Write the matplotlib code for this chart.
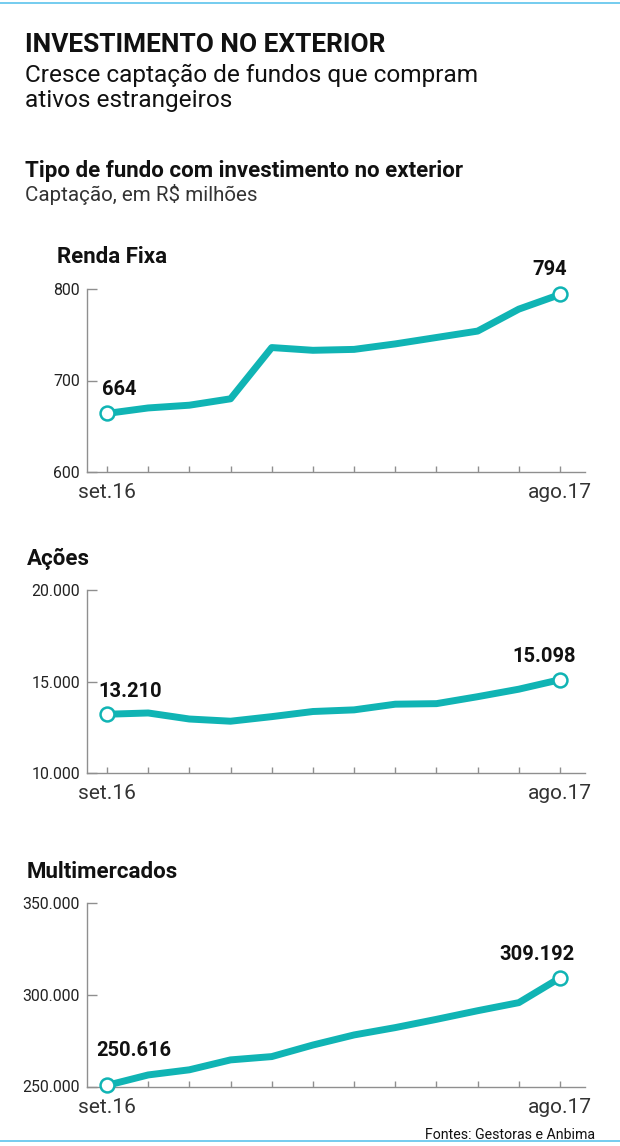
import matplotlib
matplotlib.use('Agg')
import matplotlib.pyplot as plt
from matplotlib.lines import Line2D

# ---------------- data ----------------
months = ['set.16', 'out.16', 'nov.16', 'dez.16', 'jan.17', 'fev.17',
          'mar.17', 'abr.17', 'mai.17', 'jun.17', 'jul.17', 'ago.17']
renda_fixa = [664, 670, 673, 680, 736, 733, 734, 740, 747, 754, 778, 794]
acoes = [13210, 13280, 12950, 12830, 13080, 13360, 13450, 13760, 13790,
         14170, 14580, 15098]
multimercados = [250616, 256300, 259100, 264500, 266300, 272600, 278100,
                 282100, 286600, 291300, 295700, 309192]
renda_ticks = [600, 700, 800]
acoes_ticks = [10000, 15000, 20000]
multi_ticks = [250000, 300000, 350000]

title = 'INVESTIMENTO NO EXTERIOR'
subtitle1 = 'Cresce captação de fundos que compram'
subtitle2 = 'ativos estrangeiros'
section = 'Tipo de fundo com investimento no exterior'
caption = 'Captação, em R$ milhões'
source = 'Fontes: Gestoras e Anbima'

plt.rcParams['font.family'] = ['Roboto', 'DejaVu Sans']

TEAL = '#10b4b4'
GRAY = '#8f8f8f'
BLUE = '#5cc3ec'

W, H = 620, 1146
fig = plt.figure(figsize=(W / 100, H / 100), dpi=100)


def fx(x):
    return x / W


def fy(y):
    return 1 - y / H


def fmt(v):
    return f'{v:,.0f}'.replace(',', '.')


# frame lines
fig.add_artist(Line2D([0, 1], [fy(3), fy(3)], color=BLUE, lw=1.2))
fig.add_artist(Line2D([0, 1], [fy(1141), fy(1141)], color=BLUE, lw=1.2))

# headings
fig.text(fx(25), fy(52), title, fontsize=18.9, fontweight='bold', color='#111111', va='baseline')
fig.text(fx(25), fy(82), subtitle1, fontsize=17.6, color='#111111', va='baseline')
fig.text(fx(25), fy(107), subtitle2, fontsize=17.6, color='#111111', va='baseline')
fig.text(fx(25), fy(177), section, fontsize=16, fontweight='bold', color='#111111', va='baseline')
fig.text(fx(25), fy(201), caption, fontsize=14.8, color='#333333', va='baseline')
fig.text(fx(425), fy(1139), source, fontsize=10.2, color='#111111', va='baseline')

panels = [
    dict(name='Renda Fixa', tx=57, ty=263, data=renda_fixa, ticks=renda_ticks,
         top=289, bottom=472, off0=(12, -23.5), off1=(-10, -24.5)),
    dict(name='Ações', tx=27, ty=565, data=acoes, ticks=acoes_ticks,
         top=590, bottom=773, off0=(23, -23), off1=(-16, -23)),
    dict(name='Multimercados', tx=27, ty=878, data=multimercados, ticks=multi_ticks,
         top=903, bottom=1086.5, off0=(27, -35), off1=(-23, -23)),
]

x = list(range(len(months)))
for p in panels:
    ax = fig.add_axes([fx(87), fy(p['bottom']), (585 - 87) / W, (p['bottom'] - p['top']) / H])
    ax.set_xlim(-0.486, 11.607)
    ax.set_ylim(p['ticks'][0], p['ticks'][-1])
    ax.plot(x, p['data'], color=TEAL, lw=5.0, solid_joinstyle='round',
            solid_capstyle='round', clip_on=False, zorder=3)
    ax.plot([x[0], x[-1]], [p['data'][0], p['data'][-1]], 'o', ms=10,
            mfc='white', mec=TEAL, mew=1.8, clip_on=False, zorder=4)
    for s in ['top', 'right']:
        ax.spines[s].set_visible(False)
    for s in ['left', 'bottom']:
        ax.spines[s].set_color(GRAY)
        ax.spines[s].set_linewidth(1.0)
    ax.set_yticks(p['ticks'])
    ax.set_yticklabels([fmt(t) for t in p['ticks']])
    ax.tick_params(axis='y', direction='in', length=7, width=1.0, color=GRAY,
                   labelsize=11.4, labelcolor='#222222', pad=5)
    ax.set_xticks(x)
    ax.set_xticklabels([m if i in (0, len(months) - 1) else '' for i, m in enumerate(months)])
    ax.tick_params(axis='x', direction='in', length=4, width=1.0, color=GRAY,
                   labelsize=15, labelcolor='#333333', pad=8)
    ax.patch.set_alpha(0)
    # annotations (pixel offsets converted to points)
    for idx, off in ((0, p['off0']), (len(months) - 1, p['off1'])):
        ax.annotate(fmt(p['data'][idx]), xy=(x[idx], p['data'][idx]),
                    xytext=(off[0] * 0.72, -off[1] * 0.72), textcoords='offset points',
                    ha='center', va='center', fontsize=14.5, fontweight='bold',
                    color='#111111', annotation_clip=False)
    fig.text(fx(p['tx']), fy(p['ty']), p['name'], fontsize=16, fontweight='bold',
             color='#111111', va='baseline')

fig.savefig('out.png', dpi=100)
